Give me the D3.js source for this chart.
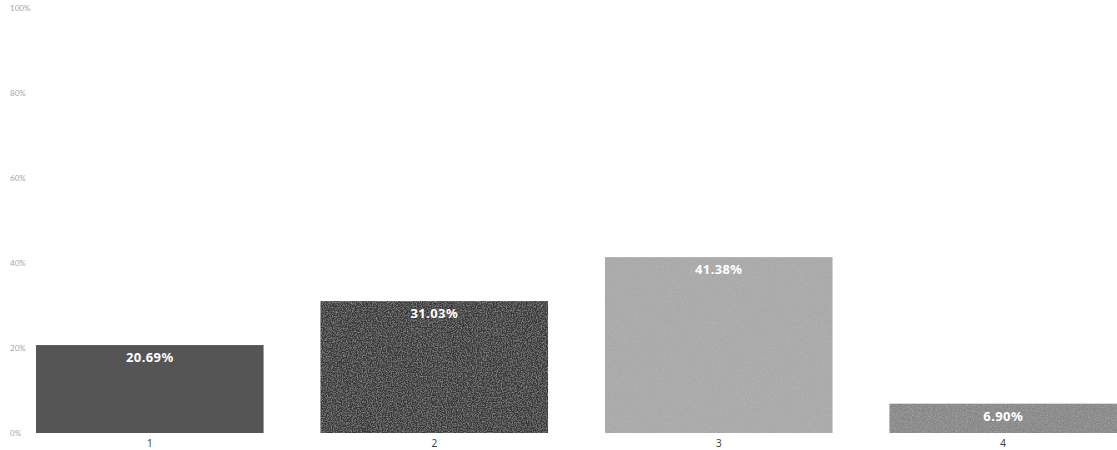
<!DOCTYPE html>
<html>
<head>
<meta charset="utf-8">
<script src="https://cdn.jsdelivr.net/npm/d3@7"></script>
<style>
  html, body { margin: 0; padding: 0; background: #fff; }
  svg { display: block; }
</style>
</head>
<body>
<svg id="chart" width="1117" height="450"></svg>
<script>
// Share of responses per category
const categories = ["1", "2", "3", "4"];
const shares = [20.69, 31.03, 41.38, 6.90];
const barColors = ["#555555", "#383838", "#a9a9a9", "#878787"];
const grain = [0, 0.16, 0.07, 0.12];
const yTicks = [0, 20, 40, 60, 80, 100];

const svg = d3.select("#chart");
const W = 1117, H = 450;
const margin = { left: 36, right: 0, top: 8, bottom: 17 };

const x = d3.scaleBand()
  .domain(categories)
  .range([margin.left, W - margin.right])
  .paddingInner(0.2)
  .paddingOuter(0);

const y = d3.scaleLinear()
  .domain([0, 100])
  .range([H - margin.bottom, margin.top]);

// grain filters for the textured bars
const defs = svg.append("defs");
grain.forEach((g, i) => {
  if (!g) return;
  const f = defs.append("filter").attr("id", "grain" + i)
    .attr("x", 0).attr("y", 0).attr("width", 1).attr("height", 1);
  f.append("feTurbulence").attr("type", "fractalNoise")
    .attr("baseFrequency", 0.8).attr("numOctaves", 2).attr("seed", i + 3).attr("result", "noise");
  f.append("feColorMatrix").attr("in", "noise").attr("type", "matrix")
    .attr("values", `0 0 0 0 1  0 0 0 0 1  0 0 0 0 1  ${g * 3} 0 0 0 ${-g * 1.2}`)
    .attr("result", "specks");
  f.append("feComposite").attr("in", "specks").attr("in2", "SourceGraphic")
    .attr("operator", "in").attr("result", "clipped");
  f.append("feMerge").call(m => {
    m.append("feMergeNode").attr("in", "SourceGraphic");
    m.append("feMergeNode").attr("in", "clipped");
  });
});

// y axis labels
const yAxis = d3.axisLeft(y).tickValues(yTicks).tickFormat(d => d + "%").tickSize(0).tickPadding(0);
svg.append("g")
  .attr("transform", "translate(28,0)")
  .call(yAxis)
  .call(g => g.select(".domain").remove())
  .call(g => g.selectAll("text")
    .attr("fill", "#a6a6a6")
    .attr("font-family", "Lato, 'Noto Sans', sans-serif")
    .attr("font-size", 8)
    .attr("text-anchor", "start")
    .attr("x", -18));

// bars
svg.append("g").selectAll("rect")
  .data(shares)
  .join("rect")
  .attr("x", (d, i) => x(categories[i]))
  .attr("y", d => y(d))
  .attr("width", x.bandwidth())
  .attr("height", d => y(0) - y(d))
  .attr("fill", (d, i) => barColors[i])
  .attr("filter", (d, i) => grain[i] ? `url(#grain${i})` : null);

// value labels
svg.append("g").selectAll("text")
  .data(shares)
  .join("text")
  .attr("x", (d, i) => x(categories[i]) + x.bandwidth() / 2)
  .attr("y", d => y(d) + 17)
  .attr("text-anchor", "middle")
  .attr("fill", "#ffffff")
  .attr("font-family", "'Noto Sans', sans-serif")
  .attr("font-weight", "bold")
  .attr("font-size", 13)
  .attr("letter-spacing", 0.4)
  .text(d => d.toFixed(2) + "%");

// category axis
const xAxis = d3.axisBottom(x).tickSize(0).tickPadding(0);
svg.append("g")
  .attr("transform", `translate(0,${y(0) + 14})`)
  .call(xAxis)
  .call(g => g.select(".domain").remove())
  .call(g => g.selectAll("text")
    .attr("dy", 0)
    .attr("fill", "#444")
    .attr("font-family", "'Noto Sans', sans-serif")
    .attr("font-size", 10));
</script>
</body>
</html>
